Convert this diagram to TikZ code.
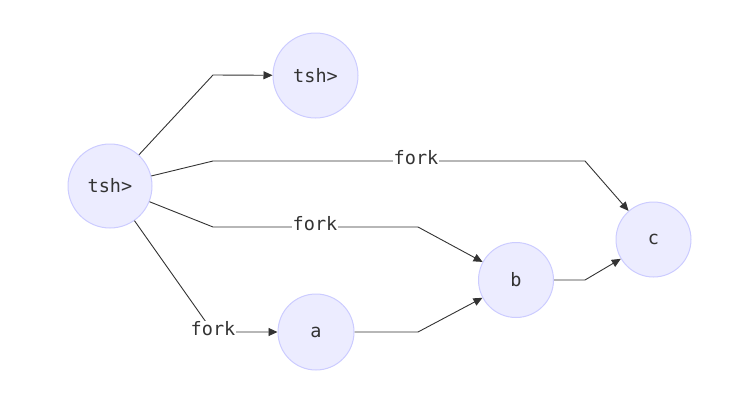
\documentclass[tikz,border=0pt]{standalone}
\usepackage{fontspec}
\setmonofont{DejaVu Sans Mono}
\usetikzlibrary{arrows.meta}
\definecolor{nodefill}{HTML}{ECECFF}
\definecolor{nodeline}{HTML}{CCCCFF}
\definecolor{edgeline}{HTML}{333333}
\begin{document}
\begin{tikzpicture}[x=1pt,y=-1pt,
  state/.style={circle,draw=nodeline,fill=nodefill,line width=1pt,inner sep=0pt,
     font=\ttfamily\fontsize{18.5}{22}\selectfont,text=edgeline},
  conn/.style={draw=edgeline,line width=0.9pt,-{Triangle[length=9pt,width=8pt]}},
  lbl/.style={fill=white,inner sep=1pt,font=\ttfamily\fontsize{18.5}{22}\selectfont,text=edgeline}]
\useasboundingbox (0,0) rectangle (739,407);
\node[state,minimum size=84pt] (L) at (110,186) {tsh>};
\node[state,minimum size=85pt] (T) at (315.5,75.5) {tsh>};
\node[state,minimum size=76pt] (a) at (316,332) {a};
\node[state,minimum size=75pt] (b) at (516,280) {b};
\node[state,minimum size=75pt] (c) at (653.5,239.5) {c};
\coordinate (t1) at (213,75);
\coordinate (c1) at (213,161);
\coordinate (c2) at (585,161);
\coordinate (b1) at (213,227);
\coordinate (b2) at (418,227);
\coordinate (a1) at (213,332);
\coordinate (ab) at (418,332);
\coordinate (bc) at (585,280);
\draw[conn] (L) -- (t1) -- (T);
\draw[conn] (L) -- (c1) -- (c2) -- (c);
\draw[conn] (L) -- (b1) -- (b2) -- (b);
\draw[conn] (L) -- (a1) -- (a);
\draw[conn] (a) -- (ab) -- (b);
\draw[conn] (b) -- (bc) -- (c);
\node[lbl] (l1) at (416,158) {fork};
\node[lbl] (l2) at (315,224) {fork};
\node[lbl] (l3) at (213,329) {fork};
\end{tikzpicture}
\end{document}
